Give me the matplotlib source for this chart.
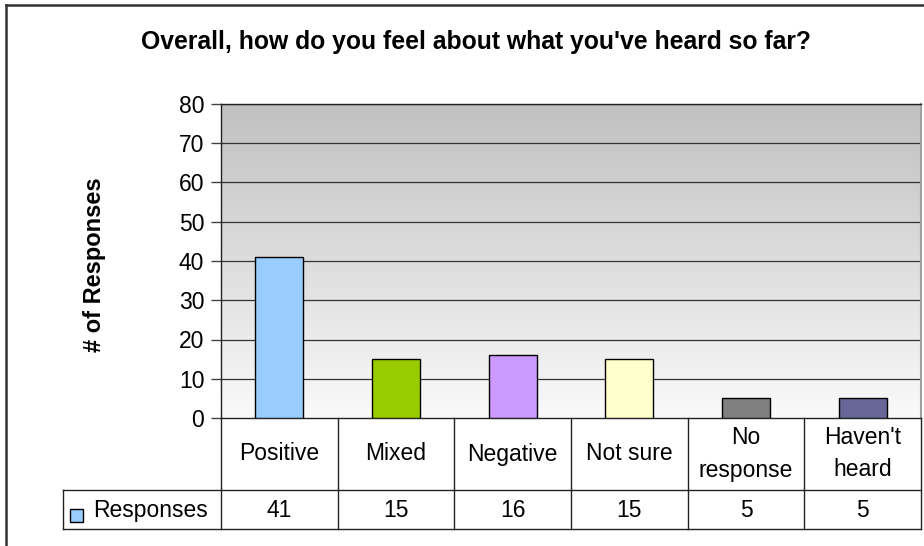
import numpy as np
import matplotlib
matplotlib.use("Agg")
import matplotlib.pyplot as plt
from matplotlib.lines import Line2D
from matplotlib.patches import Rectangle

categories = ["Positive", "Mixed", "Negative", "Not sure", "No\nresponse", "Haven't\nheard"]
responses = [41, 15, 16, 15, 5, 5]
bar_colors = ["#99CCFF", "#99CC00", "#CC99FF", "#FFFFCC", "#808080", "#666699"]
series_name = "Responses"
y_ticks = [0, 10, 20, 30, 40, 50, 60, 70, 80]
title = "Overall, how do you feel about what you've heard so far?"
y_label = "# of Responses"

plt.rcParams["font.family"] = ["Liberation Sans", "DejaVu Sans"]

W, H = 924, 546
fig = plt.figure(figsize=(W / 100, H / 100), dpi=100)
fig.patch.set_facecolor("white")

def fx(px):
    return px / W

def fy(py):
    return 1 - py / H

# plot area (pixel box)
L, R, T, B = 221, 921, 104, 418
ax = fig.add_axes([fx(L), fy(B), fx(R) - fx(L), fy(T) - fy(B)])

n = len(categories)
x = np.arange(n)
ax.set_xlim(-0.5, n - 0.5)
ax.set_ylim(0, 80)

# vertical gray (top) to white (bottom) gradient behind the bars
grad = np.linspace(0, 1, 256).reshape(-1, 1)
top_c = np.array([0xC0, 0xC0, 0xC0]) / 255
bot_c = np.array([0xFA, 0xFA, 0xFA]) / 255
img = top_c * (1 - grad[..., None]) + bot_c * grad[..., None]
img = np.repeat(img, 2, axis=1)
ax.imshow(img, extent=(-0.5, n - 0.5, 0, 80), origin="upper", aspect="auto",
          zorder=0, interpolation="bilinear")
ax.set_xlim(-0.5, n - 0.5)
ax.set_ylim(0, 80)

for yv in y_ticks[1:]:
    ax.axhline(yv, color="#333333", lw=0.9, zorder=1)

ax.bar(x, responses, width=0.41, color=bar_colors, edgecolor="black",
       linewidth=1.0, zorder=3)

ax.set_yticks(y_ticks)
ax.set_yticklabels([str(v) for v in y_ticks], fontsize=16.5)
ax.tick_params(axis="y", direction="out", length=7, width=1, color="#444444", pad=5)
ax.set_xticks([])
for s in ["left", "bottom", "top"]:
    ax.spines[s].set_color("#222222")
    ax.spines[s].set_linewidth(1.0)
ax.spines["right"].set_color("#A0A0A0")
ax.spines["right"].set_linewidth(1.5)

# data table under the plot
row1_bottom, row2_bottom = 490, 529
leg_left = 63
col_w = (R - L) / n
line_kw = dict(color="#222222", lw=1.0, transform=fig.transFigure)

def hline(y, x0, x1):
    fig.add_artist(Line2D([fx(x0), fx(x1)], [fy(y), fy(y)], **line_kw))

def vline(xp, y0, y1):
    fig.add_artist(Line2D([fx(xp), fx(xp)], [fy(y0), fy(y1)], **line_kw))

hline(row1_bottom, leg_left, R)
hline(row2_bottom, leg_left, R)
vline(leg_left, row1_bottom, row2_bottom)
for i in range(n + 1):
    vline(L + i * col_w, B, row2_bottom)

for i, (cat, val) in enumerate(zip(categories, responses)):
    cx = L + (i + 0.5) * col_w
    fig.text(fx(cx), fy((B + row1_bottom) / 2), cat, ha="center", va="center",
             fontsize=16.5, linespacing=1.5)
    fig.text(fx(cx), fy((row1_bottom + row2_bottom) / 2 + 1), str(val),
             ha="center", va="center", fontsize=16.5)

# legend key inside the table row
fig.add_artist(Rectangle((fx(70), fy(522)), fx(13), 13 / H, facecolor=bar_colors[0],
                         edgecolor="black", lw=1.0, transform=fig.transFigure))
fig.text(fx(93), fy((row1_bottom + row2_bottom) / 2 + 1), series_name,
         ha="left", va="center", fontsize=16.5)

fig.text(fx(476), fy(42), title, ha="center", va="center", fontsize=17.8,
         fontweight="bold")
fig.text(fx(95), fy(265), y_label, ha="center", va="center", rotation=90,
         fontsize=17, fontweight="bold")

# chart frame
frame_kw = dict(color="#333333", lw=1.8, transform=fig.transFigure)
fig.add_artist(Line2D([fx(6), fx(6)], [fy(5), 0], **frame_kw))
fig.add_artist(Line2D([fx(6), 1], [fy(5), fy(5)], **frame_kw))

fig.savefig("out.png", dpi=100, facecolor="white")
